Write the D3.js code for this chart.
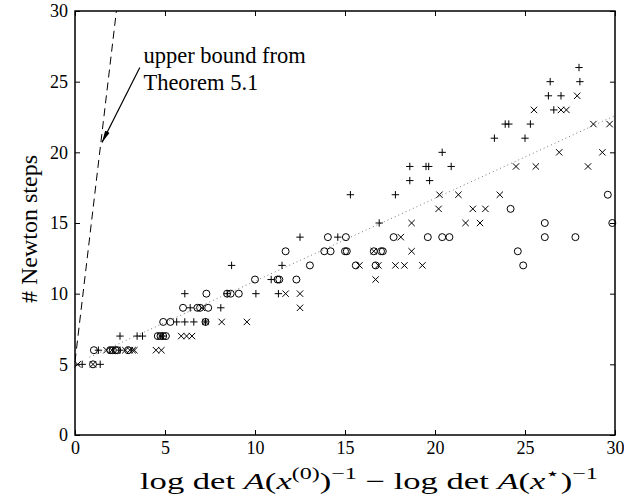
<!DOCTYPE html>
<html>
<head>
<meta charset="utf-8">
<script src="https://cdn.jsdelivr.net/npm/d3@7"></script>
<style>
  body { margin: 0; background: #fff; }
  text { font-family: "Liberation Serif", "DejaVu Serif", serif; fill: #000; }
</style>
</head>
<body>
<div id="chart"></div>
<script>
// tick values of both axes
var xTicks = [0, 5, 10, 15, 20, 25, 30];
var yTicks = [0, 5, 10, 15, 20, 25, 30];

// "+" series : [log det gap, newton steps]
var plusPts = [
  [0.4, 5], [1.4, 5],
  [1.3, 6], [2.5, 6],
  [2.5, 7], [3.45, 7], [3.75, 7], [4.85, 7],
  [5.65, 8], [6.1, 8], [6.6, 8], [7.25, 8],
  [6.4, 9], [8.1, 9],
  [6.1, 10], [8.45, 10], [10.05, 10], [11.3, 10],
  [10.9, 11],
  [8.7, 12], [11.5, 12],
  [12.5, 14], [14.6, 14],
  [16.9, 15],
  [15.3, 17], [17.8, 17],
  [18.6, 18], [19.7, 18],
  [18.6, 19], [19.5, 19], [19.65, 19], [20.9, 19],
  [20.4, 20],
  [23.3, 21], [25.0, 21],
  [23.9, 22], [24.1, 22], [25.3, 22],
  [26.6, 23],
  [26.3, 24], [27.0, 24],
  [26.4, 25], [28.05, 25],
  [28.0, 26]
];

// "x" series
var crossPts = [
  [0.15, 5], [1.0, 5],
  [1.75, 6], [2.05, 6], [2.8, 6], [3.05, 6], [3.2, 6], [3.3, 6], [4.5, 6], [4.8, 6],
  [4.75, 7], [5.9, 7], [6.2, 7], [6.5, 7],
  [7.25, 8], [8.15, 8], [9.55, 8],
  [7.05, 9], [12.5, 9],
  [11.7, 10], [12.5, 10],
  [16.7, 11],
  [15.8, 12], [16.85, 12], [17.8, 12], [18.3, 12], [19.3, 12],
  [16.6, 13], [18.7, 13],
  [18.1, 14],
  [18.7, 15], [21.7, 15], [22.5, 15],
  [20.2, 16], [22.1, 16], [22.8, 16],
  [20.25, 17], [21.3, 17], [23.6, 17],
  [24.5, 19], [25.6, 19], [28.5, 19],
  [26.9, 20], [29.3, 20],
  [28.8, 22], [29.7, 22],
  [25.5, 23], [27.0, 23], [27.3, 23],
  [27.9, 24]
];

// "o" series
var circlePts = [
  [1.0, 5],
  [1.05, 6], [1.95, 6], [2.1, 6], [2.25, 6], [2.35, 6], [2.95, 6],
  [4.6, 7], [4.75, 7], [4.9, 7], [5.05, 7],
  [4.9, 8], [5.3, 8], [7.25, 8],
  [6.0, 9], [6.8, 9], [6.95, 9], [7.4, 9],
  [7.3, 10], [8.45, 10], [8.65, 10], [9.1, 10],
  [10.0, 11], [11.25, 11], [11.35, 11], [12.3, 11],
  [13.05, 12], [15.6, 12], [16.7, 12], [24.9, 12],
  [11.7, 13], [13.85, 13], [14.2, 13], [15.0, 13], [15.1, 13], [16.6, 13], [17.0, 13], [17.1, 13], [24.6, 13],
  [14.05, 14], [15.05, 14], [17.7, 14], [19.6, 14], [20.4, 14], [20.8, 14], [26.1, 14], [27.8, 14],
  [26.1, 15], [29.85, 15],
  [24.2, 16],
  [29.6, 17]
];

// upper bound (dashed) and trend (dotted) lines
var boundLine = [[0, 5.2], [2.3, 30]];
var trendLine = [[0.8, 5.5], [30, 22.6]];

// annotation : arrow tail / head and text lines
var arrowPts = [[3.6, 26.0], [1.5, 20.7]];
var noteLines = ["upper bound from", "Theorem 5.1"];

var W = 624, H = 497;
var margin = {top: 11, right: 9, bottom: 62, left: 75};
var width = W - margin.left - margin.right;
var height = H - margin.top - margin.bottom;

var svg = d3.select("#chart").append("svg")
  .attr("width", W).attr("height", H);

var defs = svg.append("defs");
defs.append("clipPath").attr("id", "clip")
  .append("rect").attr("width", width).attr("height", height);
defs.append("marker").attr("id", "head")
  .attr("viewBox", "0 0 12 6").attr("refX", 12).attr("refY", 3)
  .attr("markerWidth", 12).attr("markerHeight", 6)
  .attr("markerUnits", "userSpaceOnUse").attr("orient", "auto")
  .append("path").attr("d", "M0,0.5 L12,3 L0,5.5 Z").attr("fill", "#000");

var g = svg.append("g").attr("transform", "translate(" + margin.left + "," + margin.top + ")");

var x = d3.scaleLinear().domain([0, 30]).range([0, width]);
var y = d3.scaleLinear().domain([0, 30]).range([height, 0]);

// axes, ticks pointing inward on all four sides
function styleAxis(sel) {
  sel.select(".domain").remove();
  sel.selectAll(".tick line").attr("stroke", "#000").attr("stroke-width", 1);
  sel.selectAll(".tick text").attr("font-size", 18).attr("fill", "#000")
    .attr("font-family", "Liberation Serif, serif");
}
g.append("g").attr("transform", "translate(0," + height + ")")
  .call(d3.axisBottom(x).tickValues(xTicks).tickSize(-5).tickPadding(6))
  .call(styleAxis);
g.append("g")
  .call(d3.axisTop(x).tickValues(xTicks).tickSize(-5).tickFormat(""))
  .call(styleAxis);
g.append("g")
  .call(d3.axisLeft(y).tickValues(yTicks).tickSize(-5).tickPadding(7))
  .call(styleAxis);
g.append("g").attr("transform", "translate(" + width + ",0)")
  .call(d3.axisRight(y).tickValues(yTicks).tickSize(-5).tickFormat(""))
  .call(styleAxis);

var line = d3.line().x(function(d){ return x(d[0]); }).y(function(d){ return y(d[1]); });
var plot = g.append("g").attr("clip-path", "url(#clip)");

plot.append("path").datum(trendLine).attr("d", line)
  .attr("fill", "none").attr("stroke", "#777").attr("stroke-width", 1)
  .attr("stroke-dasharray", "1,3");
plot.append("path").datum(boundLine).attr("d", line)
  .attr("fill", "none").attr("stroke", "#000").attr("stroke-width", 1)
  .attr("stroke-dasharray", "8,5");

// markers
var pl = 3.7, cr = 3.2, rc = 3.5;
g.selectAll(".plus").data(plusPts).enter().append("path").attr("class", "plus")
  .attr("d", function(d){
    var px = x(d[0]), py = y(d[1]);
    return "M" + (px - pl) + "," + py + "H" + (px + pl) + "M" + px + "," + (py - pl) + "V" + (py + pl);
  })
  .attr("stroke", "#000").attr("stroke-width", 1).attr("fill", "none");
g.selectAll(".cross").data(crossPts).enter().append("path").attr("class", "cross")
  .attr("d", function(d){
    var px = x(d[0]), py = y(d[1]);
    return "M" + (px - cr) + "," + (py - cr) + "L" + (px + cr) + "," + (py + cr) +
           "M" + (px - cr) + "," + (py + cr) + "L" + (px + cr) + "," + (py - cr);
  })
  .attr("stroke", "#000").attr("stroke-width", 1).attr("fill", "none");
g.selectAll(".circ").data(circlePts).enter().append("circle").attr("class", "circ")
  .attr("cx", function(d){ return x(d[0]); }).attr("cy", function(d){ return y(d[1]); })
  .attr("r", rc).attr("stroke", "#000").attr("stroke-width", 1).attr("fill", "none");

// frame
g.append("rect").attr("width", width).attr("height", height)
  .attr("fill", "none").attr("stroke", "#000").attr("stroke-width", 1.5);

// annotation
g.append("path").datum(arrowPts).attr("d", line)
  .attr("stroke", "#000").attr("stroke-width", 1.2).attr("fill", "none")
  .attr("marker-end", "url(#head)");
g.selectAll(".note").data(noteLines).enter().append("text").attr("class", "note")
  .attr("x", x(3.8)).attr("y", function(d, i){ return 52 + i * 27; })
  .attr("font-size", 22.5).text(function(d){ return d; });

// axis titles
svg.append("text")
  .attr("transform", "translate(37," + (margin.top + height / 2 + 6) + ") rotate(-90)")
  .attr("text-anchor", "middle").attr("font-size", 24).text("# Newton steps");

// x title, stretched to the width of the TeX original
var xt = svg.append("text").attr("font-size", 23);
function part(t, opt) {
  opt = opt || {};
  var s = xt.append("tspan").text(t);
  if (opt.it) s.attr("font-style", "italic");
  if (opt.sup) s.attr("font-size", 16).attr("dy", -10);
  if (opt.down) s.attr("dy", 10);
  return s;
}
part("log det ");
part("A", {it: 1});
part("(");
part("x", {it: 1});
part("(0)", {sup: 1});
part(")", {down: 1});
part("\u22121", {sup: 1});
part(" \u2212 log det ", {down: 1});
part("A", {it: 1});
part("(");
part("x", {it: 1});
part("\u22C6", {sup: 1});
part(")", {down: 1});
part("\u22121", {sup: 1});
var xtW = xt.node().getComputedTextLength();
xt.attr("transform", "translate(140,489) scale(" + (458 / xtW) + ",1)");
</script>
</body>
</html>
